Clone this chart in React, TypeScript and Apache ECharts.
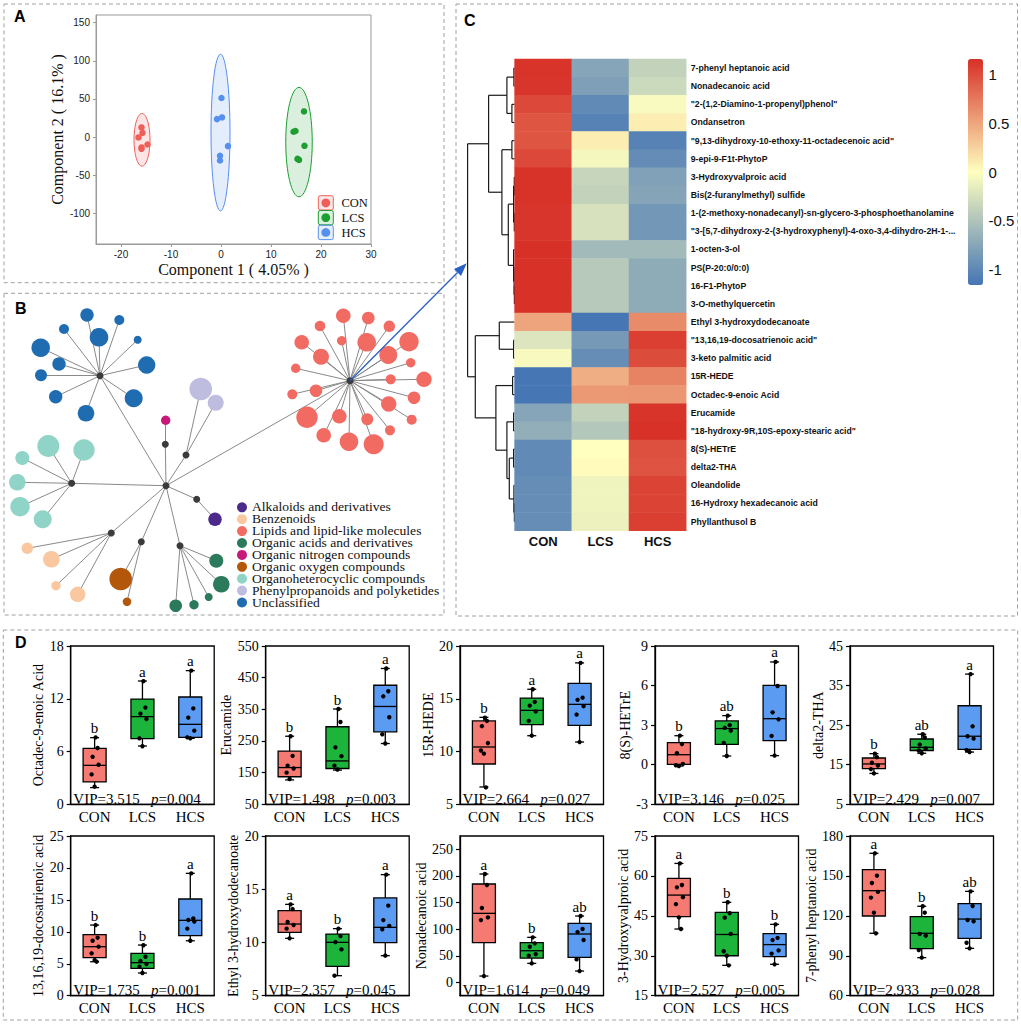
import React, { useEffect, useRef } from 'react';
import * as echarts from 'echarts';

const SERIF = '"Liberation Serif", "Times New Roman", serif';
const SANS = '"Liberation Sans", Arial, sans-serif';

// ---------------- Panel A : PLS-DA scores ----------------
const groups = ['CON', 'LCS', 'HCS'];
const plsdaCON = [[-15.9, 12.7], [-15.7, 5.6], [-16.5, -0.4], [-14.7, -9.6], [-15.9, -13.5], [-15.9, -15.3]];
const plsdaLCS = [[16.6, 33.7], [14.5, 7.0], [14.9, 8.1], [16.7, -11.4], [15.3, -28.5], [15.6, -29.8]];
const plsdaHCS = [[0.1, 51.2], [-0.8, 23.6], [0.2, 25.8], [1.4, -11.8], [-0.2, -24.5], [-0.2, -30.6]];
// confidence ellipses: [centre x, centre y, radius x, radius y]
const ellipseCON = [-15.8, -3.5, 1.6, 34.5];
const ellipseLCS = [15.6, -6.5, 2.65, 71.7];
const ellipseHCS = [-0.1, 6, 1.9, 102.6];
const plsdaXTicks = [-20, -10, 0, 10, 20, 30];
const plsdaYTicks = [-100, -50, 0, 50, 100, 150];
const plsdaXName = 'Component 1 ( 4.05% )';
const plsdaYName = 'Component 2 ( 16.1% )';

// ---------------- Panel B : classification network ----------------
const classNames = [
  'Alkaloids and derivatives',
  'Benzenoids',
  'Lipids and lipid-like molecules',
  'Organic acids and derivatives',
  'Organic nitrogen compounds',
  'Organic oxygen compounds',
  'Organoheterocyclic compounds',
  'Phenylpropanoids and polyketides',
  'Unclassified',
];
const networkRoot = [166, 485.7];
const networkHubs = [
  [196.7, 499.3], [111.3, 533], [350, 380.7], [180, 545.7], [165.3, 444.3],
  [141.3, 541.7], [71.7, 483.3], [186, 455], [100, 375.7],
];
// leaves per class: [x, y, radius]
const networkLeaves = [
  [[215, 519.3, 6.7]],
  [[27.3, 548.3, 5.7], [51.3, 559.3, 8.3], [56, 585.7, 4.7], [77.7, 594.3, 7.7]],
  [[343.3, 315.7, 7.3], [368.3, 318, 6.3], [320, 326, 5.3], [389.3, 326.3, 5.7], [341.7, 340.7, 4.7],
   [366.7, 342.3, 9.3], [409, 341.7, 9.7], [301.7, 342.3, 7.3], [321, 356.7, 8], [388.3, 355, 9],
   [410.7, 362.7, 4.7], [295.7, 368.3, 4.7], [390.7, 379.3, 5], [424, 379.3, 7.7], [316, 390.7, 6.3],
   [292.3, 394.3, 5], [414, 397.7, 6.3], [388.7, 404, 7.7], [307, 417.3, 10.7], [339.3, 416.3, 7.3],
   [367.3, 419.3, 6], [411.7, 419.7, 5], [390, 430.3, 5], [323.7, 435.3, 7.3], [349, 441.7, 9.3],
   [373.7, 444.3, 10]],
  [[216.3, 560.7, 7], [221.3, 584.3, 8.3], [208.7, 597, 4], [194, 604.7, 4.7], [175.7, 605.7, 6.3]],
  [[165.7, 420.3, 4.7]],
  [[120.7, 579, 11.3], [127, 601.7, 4.3]],
  [[48.3, 446, 11], [84, 450, 10.7], [22.3, 458, 7], [17.3, 482.3, 8.3], [20, 506.7, 9.7], [42.7, 519.3, 9]],
  [[200.7, 389, 11.3], [215.7, 402.7, 8]],
  [[87, 315, 6.7], [64, 329, 5], [99, 337.3, 9.3], [119.3, 320, 5], [137.7, 339.7, 4], [40.7, 347.7, 9.3],
   [59, 364, 6.7], [41, 375.3, 6], [146.7, 365, 8.7], [55.7, 396.7, 6.7], [133.7, 398.3, 9], [86, 413.3, 8.3]],
];

// ---------------- Panel C : heatmap ----------------
const heatRows = [
  '7-phenyl heptanoic acid',
  'Nonadecanoic acid',
  '"2-(1,2-Diamino-1-propenyl)phenol"',
  'Ondansetron',
  '"9,13-dihydroxy-10-ethoxy-11-octadecenoic acid"',
  '9-epi-9-F1t-PhytoP',
  '3-Hydroxyvalproic acid',
  'Bis(2-furanylmethyl) sulfide',
  '1-(2-methoxy-nonadecanyl)-sn-glycero-3-phosphoethanolamine',
  '"3-[5,7-dihydroxy-2-(3-hydroxyphenyl)-4-oxo-3,4-dihydro-2H-1-...',
  '1-octen-3-ol',
  'PS(P-20:0/0:0)',
  '16-F1-PhytoP',
  '3-O-methylquercetin',
  'Ethyl 3-hydroxydodecanoate',
  '"13,16,19-docosatrienoic acid"',
  '3-keto palmitic acid',
  '15R-HEDE',
  'Octadec-9-enoic Acid',
  'Erucamide',
  '"18-hydroxy-9R,10S-epoxy-stearic acid"',
  '8(S)-HETrE',
  'delta2-THA',
  'Oleandolide',
  '16-Hydroxy hexadecanoic acid',
  'Phyllanthusol B',
];
const heatCON = [1.13, 1.12, 1.02, 0.95, 0.95, 1.02, 1.14, 1.14, 1.12, 1.12, 1.155, 1.15, 1.15, 1.15, 0.5, -0.22, -0.05, -1.15, -1.15, -0.75, -0.68, -0.98, -0.98, -0.95, -0.95, -0.95];
const heatLCS = [-0.75, -0.8, -0.98, -1.05, 0.1, -0.06, -0.35, -0.38, -0.25, -0.25, -0.58, -0.45, -0.45, -0.45, -1.15, -0.85, -0.95, 0.45, 0.57, -0.38, -0.47, 0.0, 0.02, -0.1, -0.1, -0.12];
const heatHCS = [-0.38, -0.32, -0.04, 0.1, -1.05, -0.96, -0.79, -0.76, -0.87, -0.87, -0.58, -0.7, -0.7, -0.7, 0.65, 1.07, 1.0, 0.7, 0.58, 1.13, 1.15, 0.98, 0.96, 1.05, 1.05, 1.07];
const colorbarTicks = [-1, -0.5, 0, 0.5, 1];
const heatMin = -1.155;
const heatMax = 1.155;
// dendrogram merges: [left, right, height]; numbers = row index, 'mN' = N-th merge
const dendroMerges: [number | string, number | string, number][] = [
  [0, 1, 0.7], [2, 3, 2.7], ['m0', 'm1', 7.7], [4, 5, 2.7], [6, 7, 0.3], [8, 9, 0.3],
  ['m4', 'm5', 1.0], [12, 13, 0.2], [11, 'm7', 0.5], [10, 'm8', 1.0], ['m6', 'm9', 6.3],
  ['m3', 'm10', 12.7], ['m2', 'm11', 26], [15, 16, 1.0], [14, 'm13', 15.3], [17, 18, 2.0],
  [19, 20, 1.0], [21, 22, 1.0], [24, 25, 0.2], [23, 'm18', 0.7], ['m17', 'm19', 5.3],
  ['m16', 'm20', 7.7], ['m15', 'm21', 18.7], ['m14', 'm22', 39.3], ['m12', 'm23', 47],
];

// ---------------- Panel D : box plots ----------------
const metaboliteNames = ['Octadec-9-enoic Acid', 'Erucamide', '15R-HEDE', '8(S)-HETrE', 'delta2-THA',
  '13,16,19-docosatrienoic acid', 'Ethyl 3-hydroxydodecanoate', 'Nonadecanoic acid', '3-Hydroxyvalproic acid', '7-phenyl heptanoic acid'];
const vipValues = ['3.515', '1.498', '2.664', '3.146', '2.429', '1.735', '2.357', '1.614', '2.527', '2.933'];
const pValues = ['0.004', '0.003', '0.027', '0.025', '0.007', '0.001', '0.045', '0.049', '0.005', '0.028'];
const yRanges = [[0, 18], [50, 550], [5, 20], [-3, 9], [5, 45], [0, 25], [5, 20], [-25, 275], [15, 75], [60, 180]];
const yTicks = [[0, 6, 12, 18], [50, 150, 250, 350, 450, 550], [5, 10, 15, 20], [-3, 0, 3, 6, 9], [5, 15, 25, 35, 45],
  [0, 5, 10, 15, 20, 25], [5, 10, 15, 20], [0, 50, 100, 150, 200, 250], [15, 30, 45, 60, 75], [60, 90, 120, 150, 180]];
// [min, Q1, median, Q3, max] for CON, LCS, HCS
const boxStats = [
  [[1.9, 2.54, 4.43, 6.37, 7.58], [6.63, 7.46, 9.97, 11.97, 14.02], [7.5, 7.62, 9.09, 12.2, 15.2]],
  [[127, 137, 166, 218, 265], [158, 163, 187, 295, 351], [242, 279, 359, 426, 479]],
  [[6.64, 8.82, 10.43, 12.9, 13.24], [11.5, 12.55, 13.9, 15.07, 15.9], [10.9, 12.48, 14.47, 16.46, 18.4]],
  [[-0.1, 0.03, 0.76, 1.67, 2.2], [0.66, 1.55, 2.74, 3.32, 3.72], [0.69, 1.83, 3.49, 6.02, 7.79]],
  [[12.8, 14.0, 15.2, 16.7, 17.8], [17.9, 18.6, 19.4, 21.5, 22.7], [18.2, 18.9, 22.2, 29.9, 37.9]],
  [[5.32, 5.95, 7.67, 9.55, 11.06], [3.55, 4.28, 5.17, 6.63, 7.93], [8.6, 9.39, 11.8, 15.14, 19.15]],
  [[10.39, 10.95, 11.73, 12.99, 13.58], [6.88, 7.75, 10.01, 10.79, 11.3], [8.76, 9.98, 11.42, 14.18, 16.37]],
  [[11.9, 74.6, 129.7, 184.8, 203.6], [35.7, 45.7, 59.5, 74.6, 84.6], [21.3, 47, 90.9, 110.9, 124.7]],
  [[40.05, 44.7, 52.8, 59.1, 64.7], [26.4, 30.0, 38.0, 46.3, 50.07], [26.8, 29.7, 34.2, 38.3, 41.8]],
  [[106.9, 119.9, 138.9, 154.7, 167], [88.6, 95.3, 106.9, 119.4, 127.2], [95.6, 103.1, 117.6, 129.2, 138.4]],
];
const pointValues = [
  [[7.6, 6.4, 5.4, 4.5, 3.4, 2.0], [14.0, 11.0, 10.3, 9.7, 7.5, 6.6], [15.2, 10.9, 9.85, 8.37, 7.62, 7.5]],
  [[265, 203, 172, 163, 150, 130], [351, 310, 230, 202, 172, 160], [479, 407, 391, 325, 271, 242]],
  [[13.2, 12.9, 12.4, 10.8, 10.1, 9.8, 6.6], [15.9, 14.7, 14.35, 13.8, 12.9, 11.5], [18.4, 15.1, 14.9, 14.3, 13.5, 10.9]],
  [[2.2, 1.57, 0.87, 0.06, -0.04, -0.1], [3.72, 3.0, 2.8, 2.58, 1.65, 0.66], [7.79, 5.97, 3.97, 3.44, 2.18, 0.69]],
  [[17.8, 16.9, 15.5, 14.8, 13.9, 12.8], [22.7, 21.9, 20.1, 19.1, 18.6, 17.9], [37.9, 24.7, 22.2, 21.6, 18.7, 18.2]],
  [[11.06, 9.08, 8.6, 7.67, 6.63, 5.58, 5.32], [7.9, 6.1, 5.43, 4.96, 4.54, 3.55], [19.15, 12.1, 11.85, 11.6, 10.5, 8.6]],
  [[13.58, 13.14, 11.92, 11.64, 11.3, 10.39], [11.3, 10.6, 10.04, 9.35, 6.88], [16.37, 13.46, 12.1, 11.55, 11.23, 8.76]],
  [[203.6, 183, 139.7, 122, 117, 11.9], [84.6, 73.3, 67, 53, 50, 35.7], [124.7, 100.3, 94.6, 79.6, 43.2, 21.3]],
  [[64.7, 56.6, 55.7, 52, 49.4, 44.4, 40.05], [50.1, 46, 44.3, 38.2, 31.7, 30, 26.4], [41.8, 36.7, 35.9, 32, 30.8, 26.8]],
  [[167, 150.2, 144.7, 138, 133.7, 122.4, 106.9], [127.2, 122.4, 106.4, 105.1, 94.3, 88.6], [138.4, 127.4, 116.9, 115.9, 99.8, 95.6]],
];
const sigLetters = [['b', 'a', 'a'], ['b', 'b', 'a'], ['b', 'a', 'a'], ['b', 'ab', 'a'], ['b', 'ab', 'a'],
  ['b', 'b', 'a'], ['a', 'b', 'a'], ['a', 'b', 'ab'], ['a', 'b', 'b'], ['a', 'b', 'ab']];

// ---------------- styles / layout ----------------
const scoreColors = ['#ef5f5a', '#1c9e30', '#5690ee'];
const boxColors = ['#f47a72', '#1db43c', '#5b9cf2'];
const classColors = ['#4b2a8c', '#f9c8a0', '#f26b63', '#2b7a5b', '#c8197a', '#b3580a', '#8fd4c6', '#bfbddf', '#1f6cb0'];
const heatColors = ['#4575b4', '#ffffbf', '#d73027'];
const dLefts = [70.7, 265.7, 460, 655, 850];
const dTops = [646, 836];
const dHeights = [158.3, 159.7];
const dWidth = 143.5;
const dNameGaps = [24.7, 29.7, 23, 21.3, 23, 23.7, 24.4, 30.3, 23, 29.7];
const jitter = [1, 3, -2, 4, -3, 0, 2];

function rgba(hex: string, a: number) {
  const n = parseInt(hex.slice(1), 16);
  return `rgba(${(n >> 16) & 255},${(n >> 8) & 255},${n & 255},${a})`;
}

function buildOption() {
  const grid: any[] = [];
  const xAxis: any[] = [];
  const yAxis: any[] = [];
  const series: any[] = [];
  const graphic: any[] = [];

  // ---- Panel A ----
  grid.push({ left: 96, top: 15, width: 275, height: 229, show: true, borderColor: '#9a9a9a', borderWidth: 1, outerBoundsMode: 'none' });
  xAxis.push({
    gridIndex: 0, type: 'value', min: -25, max: 30, name: plsdaXName, nameLocation: 'middle', nameGap: 17,
    nameTextStyle: { fontFamily: SERIF, fontSize: 16, color: '#111' },
    axisLine: { show: true, onZero: false, lineStyle: { color: '#9a9a9a' } },
    axisTick: { show: true, length: 3, customValues: plsdaXTicks, lineStyle: { color: '#9a9a9a' } },
    axisLabel: { customValues: plsdaXTicks, fontFamily: SANS, fontSize: 10, color: '#222', margin: 5 },
    splitLine: { show: false },
  });
  yAxis.push({
    gridIndex: 0, type: 'value', min: -140, max: 160, name: plsdaYName, nameLocation: 'middle', nameGap: 31,
    nameTextStyle: { fontFamily: SERIF, fontSize: 16, color: '#111' },
    axisLine: { show: true, onZero: false, lineStyle: { color: '#9a9a9a' } },
    axisTick: { show: true, length: 3, customValues: plsdaYTicks, lineStyle: { color: '#9a9a9a' } },
    axisLabel: { customValues: plsdaYTicks, fontFamily: SANS, fontSize: 10, color: '#222', margin: 6 },
    splitLine: { show: false },
  });
  const ellipses = [ellipseCON, ellipseLCS, ellipseHCS];
  series.push({
    type: 'custom', xAxisIndex: 0, yAxisIndex: 0, silent: true, z: 1,
    dimensions: ['cx', 'cy', 'rx', 'ry'], encode: { x: 0, y: 1 },
    data: ellipses,
    renderItem: (params: any, api: any) => {
      const c = api.coord([api.value(0), api.value(1)]);
      const s = api.size([api.value(2), api.value(3)]);
      const col = scoreColors[params.dataIndex];
      return {
        type: 'ellipse', shape: { cx: c[0], cy: c[1], rx: s[0], ry: s[1] },
        style: { fill: rgba(col, 0.16), stroke: col, lineWidth: 1 },
      };
    },
  });
  [plsdaCON, plsdaLCS, plsdaHCS].forEach((d, i) => {
    series.push({
      type: 'scatter', name: groups[i], xAxisIndex: 0, yAxisIndex: 0, data: d, symbolSize: 6.5, z: 3,
      itemStyle: { color: scoreColors[i], opacity: 1 }, silent: true,
    });
  });
  groups.forEach((g, i) => {
    const y0 = 195.7 + 14.8 * i;
    graphic.push({ type: 'rect', shape: { x: 318.3, y: y0, width: 15, height: 14.3, r: 2 }, style: { fill: rgba(scoreColors[i], 0.15), stroke: scoreColors[i], lineWidth: 1 }, z: 50 });
    graphic.push({ type: 'circle', shape: { cx: 325.8, cy: y0 + 7.15, r: 4.4 }, style: { fill: scoreColors[i] }, z: 51 });
    graphic.push({ type: 'text', x: 341.5, y: y0 + 7.6, style: { text: g, fontFamily: SERIF, fontSize: 12.5, fill: '#111', verticalAlign: 'middle' }, z: 51 });
  });

  // ---- Panel C : dendrogram (grid 1) ----
  const nodes: { y: number; h: number }[] = [];
  const ref = (r: number | string) => (typeof r === 'number' ? { y: r + 0.5, h: 0 } : nodes[parseInt(r.slice(1), 10)]);
  const dendroSegments: number[][] = [];
  dendroMerges.forEach(([a, b, h]) => {
    const A = ref(a);
    const B = ref(b);
    dendroSegments.push([h, A.y, h, B.y]);
    dendroSegments.push([h, A.y, A.h, A.y]);
    dendroSegments.push([h, B.y, B.h, B.y]);
    nodes.push({ y: (A.y + B.y) / 2, h });
  });
  const rootH = dendroMerges[dendroMerges.length - 1][2];
  grid.push({ left: 514.6 - rootH, top: 59, width: rootH, height: 471.7, outerBoundsMode: 'none' });
  xAxis.push({ gridIndex: 1, type: 'value', min: 0, max: rootH, inverse: true, show: false });
  yAxis.push({ gridIndex: 1, type: 'value', min: 0, max: heatRows.length, inverse: true, show: false });
  series.push({
    type: 'custom', xAxisIndex: 1, yAxisIndex: 1, silent: true,
    dimensions: ['x1', 'y1', 'x2', 'y2'], encode: { x: [0, 2], y: [1, 3] },
    data: dendroSegments,
    renderItem: (params: any, api: any) => {
      const p1 = api.coord([api.value(0), api.value(1)]);
      const p2 = api.coord([api.value(2), api.value(3)]);
      return { type: 'line', shape: { x1: p1[0], y1: p1[1], x2: p2[0], y2: p2[1] }, style: { stroke: '#1a1a1a', lineWidth: 1.2 } };
    },
  });

  // ---- Panel C : heatmap (grid 2) ----
  grid.push({ left: 514.6, top: 59, width: 171.6, height: 471.7, outerBoundsMode: 'none' });
  xAxis.push({
    gridIndex: 2, type: 'category', data: groups, position: 'bottom',
    axisLine: { show: false }, axisTick: { show: false },
    axisLabel: { fontFamily: SANS, fontWeight: 'bold', fontSize: 13, color: '#111', margin: 4, interval: 0 },
  });
  yAxis.push({
    gridIndex: 2, type: 'category', data: heatRows, inverse: true, position: 'right',
    axisLine: { show: false }, axisTick: { show: false },
    axisLabel: { fontFamily: SANS, fontWeight: 'bold', fontSize: 8.7, color: '#111', margin: 4.5, interval: 0, align: 'left' },
  });
  const heatData: number[][] = [];
  [heatCON, heatLCS, heatHCS].forEach((col, ci) => col.forEach((v, ri) => heatData.push([ci, ri, v])));
  const heatSeriesIndex = series.length;
  series.push({ type: 'heatmap', xAxisIndex: 2, yAxisIndex: 2, data: heatData, silent: true, itemStyle: { borderWidth: 0 } });

  // ---- colour bar labels (grid 3) ----
  grid.push({ left: 968, top: 59, width: 15, height: 226, outerBoundsMode: 'none' });
  xAxis.push({ gridIndex: 3, type: 'value', min: 0, max: 1, show: false });
  yAxis.push({
    gridIndex: 3, type: 'value', min: heatMin, max: heatMax, position: 'right',
    axisLine: { show: false }, axisTick: { show: false }, splitLine: { show: false },
    axisLabel: { customValues: colorbarTicks, fontFamily: SANS, fontSize: 15, color: '#111', margin: 5.5 },
  });
  series.push({ type: 'scatter', xAxisIndex: 3, yAxisIndex: 3, data: [], silent: true });

  // ---- Panel D : box plots (grids 4..13) ----
  metaboliteNames.forEach((name, k) => {
    const gi = 4 + k;
    const row = k < 5 ? 0 : 1;
    const col = k % 5;
    grid.push({ left: dLefts[col], top: dTops[row], width: dWidth, height: dHeights[row], show: true, borderColor: '#000', borderWidth: 1.3, outerBoundsMode: 'none' });
    xAxis.push({
      gridIndex: gi, type: 'category', data: groups,
      axisLine: { show: true, onZero: false, lineStyle: { color: '#000', width: 1.3 } },
      axisTick: { show: false },
      axisLabel: { fontFamily: SERIF, fontSize: 15, color: '#000', margin: 5, interval: 0 },
    });
    yAxis.push({
      gridIndex: gi, type: 'value', min: yRanges[k][0], max: yRanges[k][1],
      name, nameLocation: 'middle', nameGap: dNameGaps[k],
      nameTextStyle: { fontFamily: SERIF, fontSize: 14, color: '#000' },
      axisLine: { show: true, onZero: false, lineStyle: { color: '#000', width: 1.3 } },
      axisTick: { show: true, length: 4, customValues: yTicks[k], lineStyle: { color: '#000', width: 1.2 } },
      axisLabel: { customValues: yTicks[k], fontFamily: SERIF, fontSize: 14, color: '#000', margin: 7 },
      splitLine: { show: false },
    });
    series.push({
      type: 'custom', xAxisIndex: gi, yAxisIndex: gi, silent: true, z: 3,
      dimensions: ['g', 'min', 'q1', 'med', 'q3', 'max'], encode: { x: 0, y: [1, 2, 3, 4, 5] },
      data: boxStats[k].map((s, g) => [g, ...s]),
      renderItem: (params: any, api: any) => {
        const g = api.value(0);
        const mn = api.value(1), q1 = api.value(2), md = api.value(3), q3 = api.value(4), mx = api.value(5);
        const cx = api.coord([g, md])[0];
        const y = (v: number) => api.coord([g, v])[1];
        const bw = 23, cw = 9;
        const ln = { stroke: '#000', lineWidth: 1.3 };
        const children: any[] = [
          { type: 'line', shape: { x1: cx, y1: y(mx), x2: cx, y2: y(mn) }, style: ln },
          { type: 'line', shape: { x1: cx - cw / 2, y1: y(mx), x2: cx + cw / 2, y2: y(mx) }, style: ln },
          { type: 'line', shape: { x1: cx - cw / 2, y1: y(mn), x2: cx + cw / 2, y2: y(mn) }, style: ln },
          { type: 'rect', shape: { x: cx - bw / 2, y: y(q3), width: bw, height: y(q1) - y(q3) }, style: { fill: boxColors[g], stroke: '#000', lineWidth: 1.3 } },
          { type: 'line', shape: { x1: cx - bw / 2, y1: y(md), x2: cx + bw / 2, y2: y(md) }, style: ln },
        ];
        pointValues[k][g].forEach((v, i) => {
          children.push({ type: 'circle', shape: { cx: cx + jitter[i % jitter.length], cy: y(v), r: 2.2 }, style: { fill: '#000' } });
        });
        children.push({
          type: 'text', x: cx, y: y(mx) - 2,
          style: { text: sigLetters[k][g], fontFamily: SERIF, fontSize: 15, fill: '#000', align: 'center', verticalAlign: 'bottom' },
        });
        if (g === 0) {
          const cs = params.coordSys;
          children.push({
            type: 'text', x: cs.x + 2.6, y: cs.y + cs.height + 1.8,
            style: {
              text: `{n|VIP=${vipValues[k]}   }{i|p}{n|=${pValues[k]}}`,
              rich: {
                n: { fontFamily: SERIF, fontSize: 15, fill: '#000' },
                i: { fontFamily: SERIF, fontSize: 15, fontStyle: 'italic', fill: '#000' },
              },
              align: 'left', verticalAlign: 'bottom',
            },
          });
        }
        return { type: 'group', children };
      },
    });
  });

  // ---- Panel B : network graph ----
  const gNodes: any[] = [];
  const gLinks: any[] = [];
  gNodes.push({ name: 'root', x: networkRoot[0], y: networkRoot[1], symbolSize: 7, category: classNames.length });
  networkHubs.forEach((h, ci) => {
    const hubName = 'hub' + ci;
    gNodes.push({ name: hubName, x: h[0], y: h[1], symbolSize: 7, category: classNames.length });
    gLinks.push({ source: 'root', target: hubName });
    networkLeaves[ci].forEach((l, li) => {
      const nm = `leaf${ci}_${li}`;
      gNodes.push({ name: nm, x: l[0], y: l[1], symbolSize: 2 * l[2], category: ci });
      gLinks.push({ source: hubName, target: nm });
    });
  });
  const xs = gNodes.map((n) => n.x);
  const ys = gNodes.map((n) => n.y);
  const minX = Math.min(...xs), maxX = Math.max(...xs), minY = Math.min(...ys), maxY = Math.max(...ys);
  series.push({
    type: 'graph', layout: 'none', roam: false, silent: true,
    left: minX, top: minY, width: maxX - minX, height: maxY - minY,
    categories: [...classNames.map((n, i) => ({ name: n, itemStyle: { color: classColors[i] } })), { name: 'hub', itemStyle: { color: '#3b3b3b' } }],
    data: gNodes, links: gLinks,
    lineStyle: { color: '#8a8a8a', width: 1, opacity: 1, curveness: 0 },
    label: { show: false }, z: 2,
  });

  // ---- network class key (tight rows as in the reference) ----
  classNames.forEach((n, i) => {
    const yc = 507.3 + 11.9 * i;
    graphic.push({ type: 'circle', shape: { cx: 242, cy: yc, r: 5 }, style: { fill: classColors[i] }, z: 60 });
    graphic.push({
      type: 'text', x: 252, y: yc + 0.5, scaleY: 0.84,
      style: { text: n, fontFamily: SERIF, fontSize: 13.6, fill: '#111', verticalAlign: 'middle' }, z: 60,
    });
  });

  // ---- arrow from lipid hub to heatmap ----
  const a0 = networkHubs[2];
  const a1 = [466.7, 263.3];
  const dx = a1[0] - a0[0], dy = a1[1] - a0[1];
  const len = Math.hypot(dx, dy);
  const ux = dx / len, uy = dy / len;
  const L = 13, W = 5;
  const bx = a1[0] - L * ux, by = a1[1] - L * uy;
  graphic.push({ type: 'line', shape: { x1: a0[0], y1: a0[1], x2: bx, y2: by }, style: { stroke: '#2a5fc4', lineWidth: 1.3 }, z: 100 });
  graphic.push({ type: 'polygon', shape: { points: [[a1[0], a1[1]], [bx - W * uy, by + W * ux], [bx + W * uy, by - W * ux]] }, style: { fill: '#2a5fc4' }, z: 100 });

  // ---- dashed panel frames & panel letters ----
  const frames = [[4, 4, 440, 278.7], [4, 293.3, 440, 321.7], [456, 4, 561.5, 612], [3.3, 630, 1014.4, 390]];
  frames.forEach((f) => graphic.push({ type: 'rect', shape: { x: f[0], y: f[1], width: f[2], height: f[3] }, style: { fill: 'none', stroke: '#a0a0a0', lineWidth: 1, lineDash: [4, 3] }, z: 0 }));
  const letters: [string, number, number][] = [['A', 14, 8], ['B', 15, 300], ['C', 464, 12], ['D', 15, 634]];
  letters.forEach(([t, x, y]) => graphic.push({ type: 'text', x, y, style: { text: t, fontFamily: SANS, fontWeight: 'bold', fontSize: 16, fill: '#000', verticalAlign: 'top' }, z: 100 }));

  return {
    animation: false,
    backgroundColor: '#fff',
    grid, xAxis, yAxis, series, graphic,
    visualMap: {
      type: 'continuous', seriesIndex: heatSeriesIndex, min: heatMin, max: heatMax, calculable: false,
      orient: 'vertical', left: 968, top: 59, itemWidth: 15, itemHeight: 226, padding: 0, text: null,
      inRange: { color: heatColors }, hoverLink: false,
    },
  };
}

export default function App() {
  const ref = useRef<HTMLDivElement>(null);
  useEffect(() => {
    const chart = echarts.init(ref.current!, null, { renderer: 'svg' });
    chart.setOption(buildOption() as any);
    return () => chart.dispose();
  }, []);
  return <div ref={ref} style={{ position: 'absolute', left: 0, top: 0, width: 1021, height: 1024, background: '#fff' }} />;
}
